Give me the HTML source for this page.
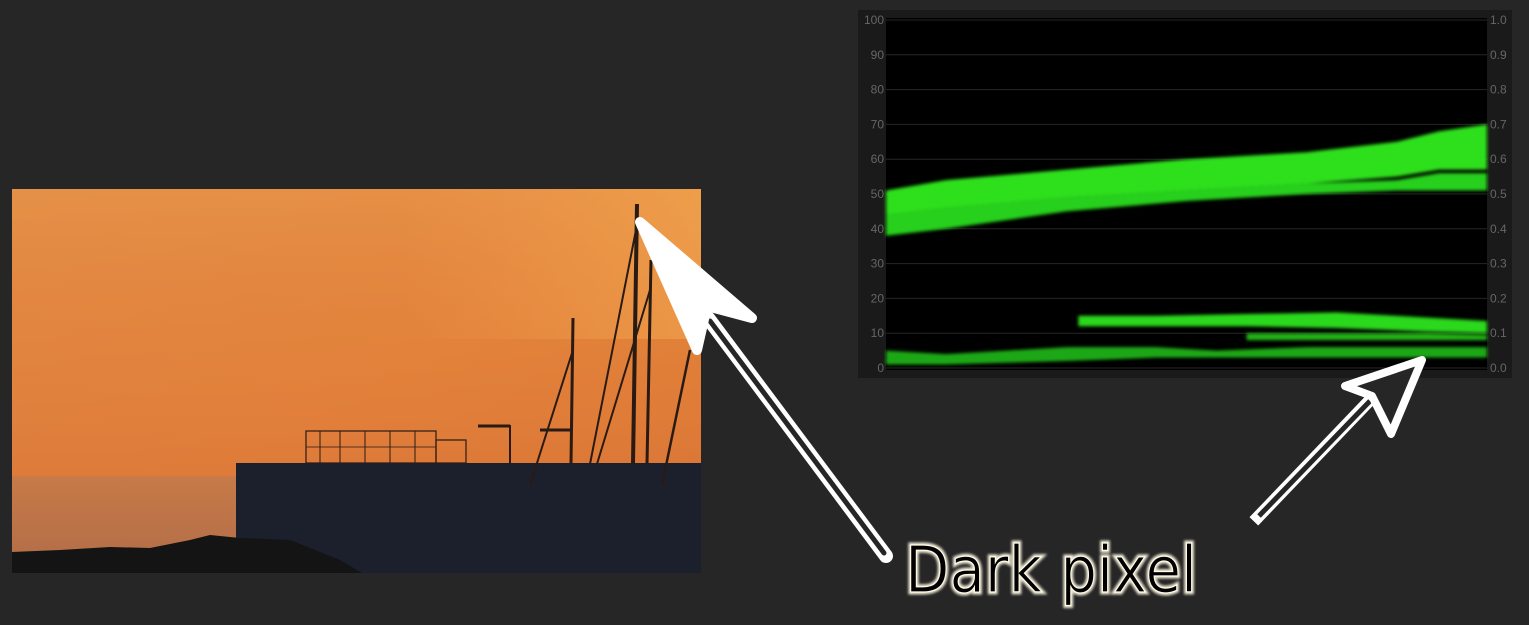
<!DOCTYPE html>
<html><head><meta charset="utf-8"><style>
html,body{margin:0;padding:0;background:#262626;}
svg{display:block;font-family:"Liberation Sans",sans-serif;}
</style></head><body>
<svg id="root" width="1529" height="625" viewBox="0 0 1529 625">
<defs>
<linearGradient id="sky" x1="0" y1="0" x2="1" y2="1">
<stop offset="0" stop-color="#e08a45"/><stop offset="0.5" stop-color="#e5853a"/><stop offset="1" stop-color="#dd7a30"/>
</linearGradient>
<linearGradient id="skyv" x1="0" y1="0" x2="0" y2="1">
<stop offset="0" stop-color="#e8954a" stop-opacity="0.6"/><stop offset="0.5" stop-color="#df7e3e" stop-opacity="0.3"/><stop offset="1" stop-color="#d9733a" stop-opacity="0.6"/>
</linearGradient>
<linearGradient id="glow" x1="0" y1="0" x2="1" y2="0">
<stop offset="0" stop-color="#f0a050" stop-opacity="0"/><stop offset="1" stop-color="#f2a850" stop-opacity="0.6"/>
</linearGradient>
<linearGradient id="sea" x1="0" y1="0" x2="0" y2="1">
<stop offset="0" stop-color="#c87a48"/><stop offset="1" stop-color="#b06c48"/>
</linearGradient>
<filter id="blur"><feGaussianBlur stdDeviation="1.6"/></filter>
<filter id="tglow"><feGaussianBlur stdDeviation="1.2"/></filter>
</defs>

<!-- PHOTO -->
<g>
<rect x="12" y="189" width="689" height="384" fill="url(#sky)"/>
<rect x="12" y="189" width="689" height="290" fill="url(#skyv)"/>
<rect x="400" y="189" width="301" height="150" fill="url(#glow)"/>
<rect x="12" y="476" width="226" height="97" fill="url(#sea)"/>
<rect x="236" y="463" width="465" height="110" fill="#1c1f2c"/>
<path d="M12 552 L60 550 L110 547 L150 548 L190 540 L210 535 L240 538 L290 540 L310 548 L340 560 L362 573 L12 573 Z" fill="#141414"/>
<g stroke="#2a1a14" fill="none">
<line x1="637" y1="204" x2="633" y2="464" stroke-width="4"/>
<line x1="651" y1="260" x2="647" y2="464" stroke-width="3"/>
<line x1="573" y1="318" x2="571" y2="464" stroke-width="3"/>
<line x1="636" y1="230" x2="590" y2="464" stroke-width="2"/>
<line x1="650" y1="290" x2="597" y2="464" stroke-width="2"/>
<line x1="690" y1="350" x2="662" y2="485" stroke-width="2.5"/>
<line x1="573" y1="350" x2="530" y2="485" stroke-width="2"/>
<line x1="510" y1="425" x2="510" y2="464" stroke-width="2"/>
<line x1="478" y1="426" x2="510" y2="426" stroke-width="3"/>
<line x1="540" y1="430" x2="570" y2="430" stroke-width="3"/>
<rect x="306" y="431" width="130" height="32" stroke-width="1.2"/>
<rect x="436" y="440" width="30" height="23" stroke-width="1.2"/>
<line x1="320" y1="431" x2="320" y2="463"/><line x1="340" y1="431" x2="340" y2="463"/><line x1="365" y1="431" x2="365" y2="463"/><line x1="390" y1="431" x2="390" y2="463"/><line x1="415" y1="431" x2="415" y2="463"/>
<line x1="306" y1="447" x2="436" y2="447" stroke-width="0.8"/>
</g>
</g>

<!-- SCOPE -->
<g>
<rect x="858" y="10" width="654" height="368" fill="#1a1a1a"/>
<rect x="886" y="18" width="601" height="352" fill="#000"/>
<g id="grid"></g>
<g id="bands" filter="url(#blur)"></g>
</g>

<!-- ARROWS -->
<g stroke-linejoin="round" stroke-linecap="round">
<line x1="708" y1="318" x2="886" y2="556" stroke="#fff" stroke-width="14"/>
<line x1="710" y1="321" x2="884" y2="553" stroke="#262626" stroke-width="5"/>
<path d="M640 222 L752 318 L707 306 L697 350 Z" fill="#fff" stroke="#fff" stroke-width="10"/>
</g>
<g stroke-linejoin="round">
<line x1="1372" y1="398" x2="1258" y2="517" stroke="#fff" stroke-width="12" stroke-linecap="square"/>
<line x1="1370" y1="401" x2="1259" y2="516" stroke="#262626" stroke-width="5"/>
<path d="M1422 360 L1345 386 L1372 396 L1391 434 Z" fill="#262626" stroke="#fff" stroke-width="8"/>
</g>

<g>
<text x="905" y="592" font-size="64" textLength="292" lengthAdjust="spacingAndGlyphs" font-family="DejaVu Sans, sans-serif" fill="none" stroke="#e8e4d0" stroke-width="5" filter="url(#tglow)">Dark pixel</text>
<text x="905" y="592" font-size="64" textLength="292" lengthAdjust="spacingAndGlyphs" font-family="DejaVu Sans, sans-serif" fill="#000" stroke="#fffbe8" stroke-width="1.2">Dark pixel</text>
</g>
</svg>
<script>
const leftTicks=[0,10,20,30,40,50,60,70,80,90,100];
const rightTicks=["0.0","0.1","0.2","0.3","0.4","0.5","0.6","0.7","0.8","0.9","1.0"];
const bandX=[0,0.1,0.3,0.5,0.7,0.85,0.92,1];
const upperLow=[44,46,49,51,53,55,57,57];
const upperHigh=[51,54,57,60,62,65,68,70];
const lowerLow=[38,40,45,48,50,51,51,51];
const lowerHigh=[44,46,49,51,53,54,56,56];
const floorX=[0,0.1,0.2,0.3,0.45,0.55,0.7,0.85,1];
const floorLow=[1,1,1.5,2,3,3,3,3,3];
const floorHigh=[5,4,5,6,6,5,6,6,6];
const shelfX=[0.32,0.45,0.6,0.75,0.9,1];
const shelfLow=[12,12,12,11.5,10.5,10];
const shelfHigh=[15,15,15.5,16,14.5,13.5];
const midX=[0.6,0.75,0.9,1];
const midLow=[8,8,8,8];
const midHigh=[10,10,10,9.5];

const X0=886,W=601,Y0=368,YS=3.48;
const sx=f=>X0+f*W, sy=v=>Y0-v*YS;
const ns="http://www.w3.org/2000/svg";
const grid=document.getElementById('grid');
leftTicks.forEach((t,i)=>{
 const l=document.createElementNS(ns,'line');
 l.setAttribute('x1',X0);l.setAttribute('x2',X0+W);l.setAttribute('y1',sy(t));l.setAttribute('y2',sy(t));
 l.setAttribute('stroke','#262626');l.setAttribute('stroke-width','1');
 
 
 grid.appendChild(l);
 const a=document.createElementNS(ns,'text');
 a.setAttribute('x',884);a.setAttribute('y',sy(t)+4);a.setAttribute('text-anchor','end');
 a.setAttribute('font-size','12');a.setAttribute('fill','#666');a.textContent=t;
 
 
 grid.appendChild(a);
 const b=document.createElementNS(ns,'text');
 b.setAttribute('x',1490);b.setAttribute('y',sy(t)+4);
 b.setAttribute('font-size','12');b.setAttribute('fill','#666');b.textContent=rightTicks[i];
 
 
 grid.appendChild(b);
});
const bands=document.getElementById('bands');
function band(xs,lo,hi,color,name){
 let d='M'+xs.map((x,i)=>sx(x)+' '+sy(hi[i])).join(' L');
 d+=' L'+xs.slice().reverse().map((x,i)=>sx(x)+' '+sy(lo[xs.length-1-i])).join(' L')+' Z';
 const p=document.createElementNS(ns,'path');
 p.setAttribute('d',d);p.setAttribute('fill',color);
 
 
 bands.appendChild(p);
}
band(bandX,upperLow,upperHigh,'#2ee01c','upper-band');
band(bandX,lowerLow,lowerHigh,'#26d01a','lower-band');
band(floorX,floorLow,floorHigh,'#1fa816','floor-band');
band(shelfX,shelfLow,shelfHigh,'#2ad81c','shelf-band');
band(midX,midLow,midHigh,'#22b418','mid-band');
</script>
</body></html>
